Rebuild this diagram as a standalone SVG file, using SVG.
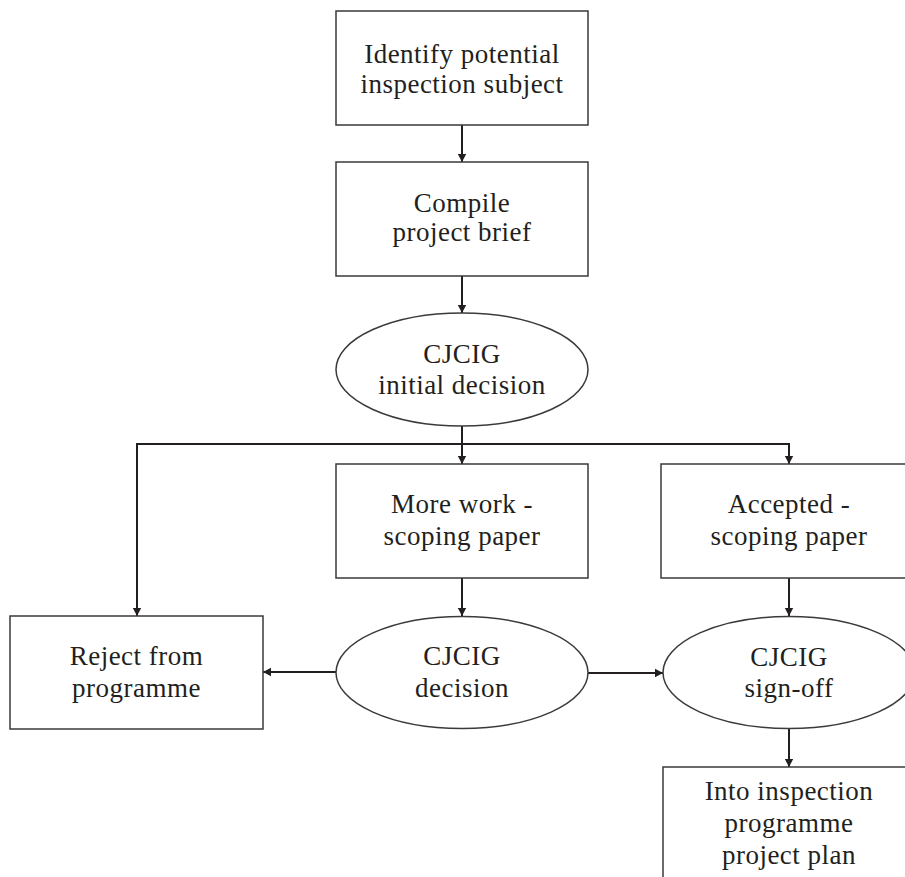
<svg xmlns="http://www.w3.org/2000/svg" width="905" height="877" viewBox="0 0 905 877">
<style>
.box{fill:#fff;stroke:#3a3a3a;stroke-width:1.5}
.t{font-family:"Liberation Serif","Times New Roman",serif;font-size:27px;letter-spacing:0.5px;fill:#231f20;text-anchor:middle}
.c{fill:none;stroke:#231f20;stroke-width:2}
</style>
<defs>
<marker id="ah" markerUnits="userSpaceOnUse" markerWidth="10" markerHeight="10" refX="8" refY="5" orient="auto">
<path d="M0,0.8 L8,5 L0,9.2 Z" fill="#231f20"/>
</marker>
</defs>
<rect width="905" height="877" fill="#fff"/>
<g id="connectors">
<line class="c" x1="462" y1="125" x2="462" y2="162" marker-end="url(#ah)"/>
<line class="c" x1="462" y1="276" x2="462" y2="313" marker-end="url(#ah)"/>
<line class="c" x1="462" y1="426" x2="462" y2="464" marker-end="url(#ah)"/>
<polyline class="c" points="137,616 137,444 789,444 789,464" stroke-width="1.5"/>
<line class="c" x1="137" y1="600" x2="137" y2="616" marker-end="url(#ah)"/>
<line class="c" x1="789" y1="450" x2="789" y2="464" stroke-width="1.5" marker-end="url(#ah)"/>
<line class="c" x1="462" y1="578" x2="462" y2="616" marker-end="url(#ah)"/>
<line class="c" x1="789" y1="578" x2="789" y2="616" marker-end="url(#ah)"/>
<line class="c" x1="336" y1="672" x2="263" y2="672" marker-end="url(#ah)"/>
<line class="c" x1="588" y1="673" x2="663" y2="673" marker-end="url(#ah)"/>
<line class="c" x1="789" y1="729" x2="789" y2="767" marker-end="url(#ah)"/>
</g>
<g id="identify">
<rect class="box" x="336" y="11" width="252" height="114"/>
<text class="t" x="462" y="63">Identify potential</text>
<text class="t" x="462" y="93">inspection subject</text>
</g>
<g id="compile">
<rect class="box" x="336" y="162" width="252" height="114"/>
<text class="t" x="462" y="212">Compile</text>
<text class="t" x="462" y="241">project brief</text>
</g>
<g id="initial">
<ellipse class="box" cx="462" cy="369.5" rx="126" ry="56.5"/>
<text class="t" x="462" y="363">CJCIG</text>
<text class="t" x="462" y="394">initial decision</text>
</g>
<g id="morework">
<rect class="box" x="336" y="464" width="252" height="114"/>
<text class="t" x="462" y="513">More work -</text>
<text class="t" x="462" y="545">scoping paper</text>
</g>
<g id="accepted">
<rect class="box" x="661" y="464" width="252" height="114"/>
<text class="t" x="789" y="513">Accepted -</text>
<text class="t" x="789" y="545">scoping paper</text>
</g>
<g id="reject">
<rect class="box" x="10" y="616" width="253" height="113"/>
<text class="t" x="136.5" y="665">Reject from</text>
<text class="t" x="136.5" y="697">programme</text>
</g>
<g id="decision">
<ellipse class="box" cx="462" cy="672.5" rx="126" ry="56"/>
<text class="t" x="462" y="665">CJCIG</text>
<text class="t" x="462" y="697">decision</text>
</g>
<g id="signoff">
<ellipse class="box" cx="789" cy="672.5" rx="126" ry="56"/>
<text class="t" x="789" y="666">CJCIG</text>
<text class="t" x="789" y="697">sign-off</text>
</g>
<g id="plan">
<rect class="box" x="663" y="767" width="252" height="114"/>
<text class="t" x="789" y="800">Into inspection</text>
<text class="t" x="789" y="832">programme</text>
<text class="t" x="789" y="864">project plan</text>
</g>
</svg>
